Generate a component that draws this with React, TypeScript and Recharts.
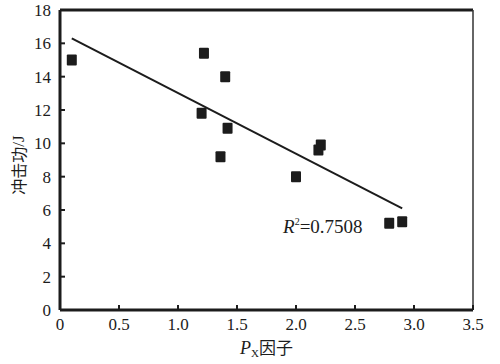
import { ScatterChart, Scatter, XAxis, YAxis, ReferenceLine, ReferenceDot, Label } from "recharts";

// P_X factor vs impact energy
const pxFactor = [0.1, 1.22, 1.4, 1.2, 1.42, 1.36, 2.21, 2.19, 2.0, 2.79, 2.9];
const impactEnergy = [15.0, 15.4, 14.0, 11.8, 10.9, 9.2, 9.9, 9.6, 8.0, 5.2, 5.3];

// fitted trend line end points
const fitX = [0.1, 2.9];
const fitY = [16.3, 6.1];

const xTicks = [0, 0.5, 1, 1.5, 2, 2.5, 3, 3.5];
const yTicks = [0, 2, 4, 6, 8, 10, 12, 14, 16, 18];

const r2Value = "0.7508";

const points = pxFactor.map((x, i) => ({ x, y: impactEnergy[i] }));
const fitLine = fitX.map((x, i) => ({ x, y: fitY[i] }));

const FONT = "'Times New Roman', 'Liberation Serif', Times, 'DejaVu Serif', serif";
const CJK = "'Noto Sans CJK SC', sans-serif";
const INK = "#1c1c1c";

const SquareMark = (props: any) => {
  const { cx, cy } = props;
  if (cx == null || cy == null) return <g />;
  return <rect x={cx - 5} y={cy - 5.5} width={10} height={11} rx={1} fill={INK} />;
};

const XTitle = () => (
  <text x={240} y={354} fill={INK} style={{ fontFamily: FONT, fontSize: 18 }}>
    <tspan fontStyle="italic">P</tspan>
    <tspan fontSize={11} dy={3}>X</tspan>
    <tspan dy={-3} style={{ fontFamily: CJK, fontSize: 17 }}>因子</tspan>
  </text>
);

const YTitle = () => (
  <text
    x={18}
    y={165}
    transform="rotate(-90 18 165)"
    textAnchor="middle"
    dominantBaseline="central"
    fill={INK}
    style={{ fontFamily: CJK, fontSize: 16 }}
  >
    冲击功<tspan style={{ fontFamily: FONT, fontSize: 17 }}>/J</tspan>
  </text>
);

const R2Label = (props: any) => {
  const vb = props.viewBox || {};
  const x = vb.x ?? 283;
  const y = vb.y ?? 233;
  return (
    <text x={x} y={y} fill={INK} style={{ fontFamily: FONT, fontSize: 19 }}>
      <tspan fontStyle="italic">R</tspan>
      <tspan fontSize={10} dy={-8}>2</tspan>
      <tspan dy={8}>={r2Value}</tspan>
    </text>
  );
};

export default function App() {
  const tickStyle = { fill: INK, fontSize: 17, fontFamily: FONT, style: { fontFamily: FONT } };
  return (
    <div style={{ position: "absolute", left: 0, top: 0, background: "#fff", fontFamily: FONT }}>
      <ScatterChart width={500} height={364} margin={{ top: 10, right: 27, bottom: 0, left: 0 }}>
        <XAxis
          type="number"
          dataKey="x"
          domain={[0, 3.5]}
          ticks={xTicks}
          tickFormatter={(v: number) => (v === 0 ? "0" : v.toFixed(1))}
          height={54}
          axisLine={{ stroke: INK, strokeWidth: 3 }}
          tickLine={{ stroke: INK, strokeWidth: 2 }}
          tickSize={-5}
          tickMargin={13}
          tick={tickStyle}
          allowDataOverflow
        >
          <Label content={<XTitle />} />
        </XAxis>
        <YAxis
          type="number"
          dataKey="y"
          domain={[0, 18]}
          ticks={yTicks}
          width={60}
          axisLine={{ stroke: INK, strokeWidth: 3 }}
          tickLine={{ stroke: INK, strokeWidth: 2 }}
          tickSize={-5}
          tickMargin={14}
          tick={tickStyle}
          allowDataOverflow
        >
          <Label content={<YTitle />} />
        </YAxis>
        <ReferenceLine y={18} stroke={INK} strokeWidth={3} ifOverflow="visible" />
        <ReferenceLine x={3.5} stroke="#333" strokeWidth={1.5} ifOverflow="visible" />
        <Scatter
          data={fitLine}
          line={{ stroke: INK, strokeWidth: 2 }}
          shape={() => <g />}
          isAnimationActive={false}
        />
        <Scatter data={points} shape={SquareMark} isAnimationActive={false} />
        <ReferenceDot x={1.89} y={4.6} r={0} ifOverflow="visible" label={<R2Label />} />
      </ScatterChart>
    </div>
  );
}
